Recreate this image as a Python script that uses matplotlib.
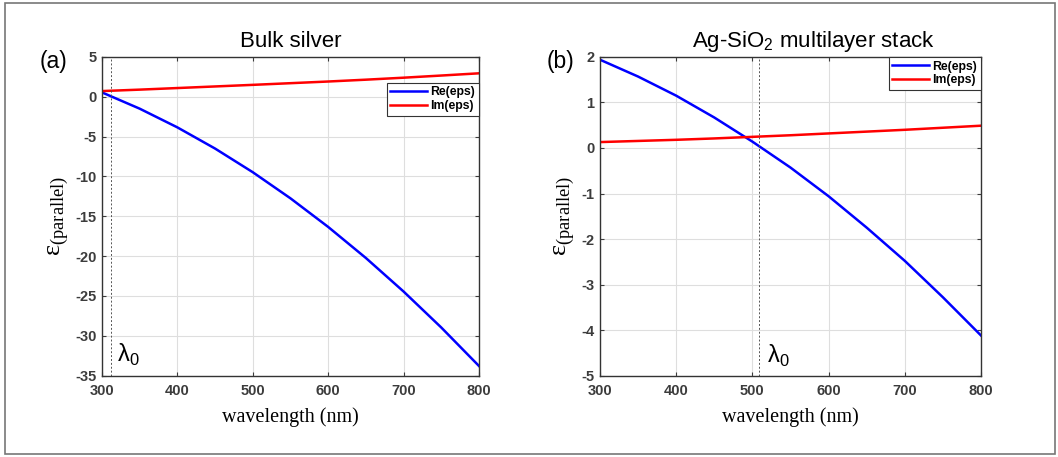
import numpy as np
import matplotlib.pyplot as plt
from matplotlib.patches import Rectangle

plt.rcParams['mathtext.fontset'] = 'custom'
plt.rcParams['mathtext.rm'] = 'Liberation Serif'
plt.rcParams['mathtext.sf'] = 'Liberation Sans'
plt.rcParams['axes.unicode_minus'] = False

# wavelengths (nm)
wl = [300, 350, 400, 450, 500, 550, 600, 650, 700, 750, 800]

# (a) bulk silver
re_bulk = [0.55, -1.49, -3.84, -6.5, -9.47, -12.75, -16.34, -20.24, -24.45, -28.97, -33.8]
im_bulk = [0.72, 0.9, 1.1, 1.3, 1.5, 1.71, 1.92, 2.15, 2.4, 2.67, 2.95]
lam0_bulk = 312.5

# (b) Ag-SiO2 multilayer
re_ml = [1.94, 1.57, 1.15, 0.67, 0.14, -0.43, -1.06, -1.75, -2.48, -3.28, -4.12]
im_ml = [0.13, 0.155, 0.18, 0.21, 0.245, 0.28, 0.32, 0.36, 0.40, 0.445, 0.49]
lam0_ml = 509

xticks = [300, 400, 500, 600, 700, 800]
yticks_bulk = [-35, -30, -25, -20, -15, -10, -5, 0, 5]
yticks_ml = [-5, -4, -3, -2, -1, 0, 1, 2]

tick_col = '#3c3c3c'

fig = plt.figure(figsize=(10.58, 4.57), dpi=100)
fig.patches.append(Rectangle((0.005, 0.006), 0.992, 0.988, transform=fig.transFigure,
                             fill=False, edgecolor='#777777', lw=1.2))

def panel(rect, re, im, lam0, ylim, yticks, title, title_x, tag, tag_x,
          leg_anchor, lam_dx, lam_y):
    ax = fig.add_axes(rect)
    ax.plot(wl, re, color='#0000ff', lw=1.8, label='Re(eps)')
    ax.plot(wl, im, color='#ff0000', lw=1.8, label='Im(eps)')
    ax.axvline(lam0, color='#555555', ls=(0, (2, 2)), lw=0.7)
    ax.set_xlim(300, 800)
    ax.set_ylim(*ylim)
    ax.set_xticks(xticks)
    ax.set_yticks(yticks)
    ax.grid(True, color='#dedede', lw=0.8)
    ax.tick_params(direction='in', length=3, color=tick_col, labelcolor=tick_col,
                   labelsize=10.5, width=0.8, top=True, right=True)
    ax.tick_params(axis='x', pad=6)
    ax.tick_params(axis='y', pad=4)
    for lab in ax.get_xticklabels() + ax.get_yticklabels():
        lab.set_fontweight('heavy')
        lab.set_family('Liberation Sans')
    for s in ax.spines.values():
        s.set_color('#333333')
        s.set_linewidth(1.0)
    ax.set_title(title, fontsize=16, family='Liberation Sans', pad=7, x=title_x)
    ax.set_xlabel('wavelength (nm)', family='Liberation Serif', fontsize=14.5, labelpad=7)
    ax.set_ylabel(r'$\mathrm{ε}_{\mathrm{(parallel)}}$', fontsize=19, labelpad=3)
    ax.text(tag_x, 0.985, tag, transform=ax.transAxes,
            fontsize=16.5, family='Liberation Sans', va='center')
    ax.text(lam0 + lam_dx, lam_y, r'$\mathsf{λ}_\mathsf{0}$', fontsize=17, va='baseline')
    leg = ax.legend(loc='upper right', bbox_to_anchor=leg_anchor,
                    prop={'weight': 'bold', 'size': 8.8, 'family': 'Liberation Sans'},
                    frameon=True, fancybox=False, edgecolor='#333333', framealpha=1,
                    handlelength=3.0, borderpad=0.3, labelspacing=0.15,
                    handletextpad=0.3, borderaxespad=0)
    leg.get_frame().set_linewidth(0.8)
    return ax

panel([0.0964, 0.1783, 0.3563, 0.697], re_bulk, im_bulk, lam0_bulk, (-35, 5),
      yticks_bulk, 'Bulk silver', 0.5, '(a)', -0.165,
      (1.0, 0.919), 7.5, -33.3)
panel([0.5671, 0.1783, 0.3601, 0.697], re_ml, im_ml, lam0_ml, (-5, 2),
      yticks_ml, r'Ag-SiO$_\mathsf{2}$ multilayer stack', 0.56,
      '(b)', -0.14, (1.0, 1.0), 10, -4.72)

fig.savefig('out.png', dpi=100)
